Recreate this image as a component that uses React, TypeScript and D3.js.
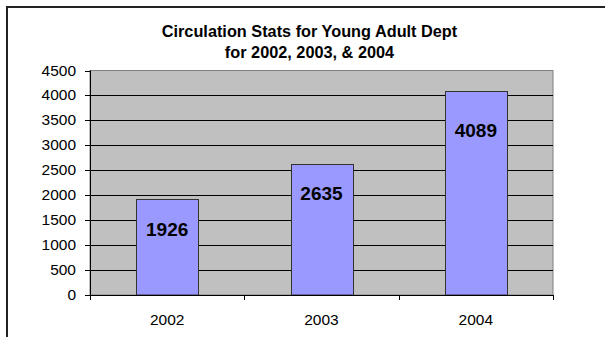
import React from "react";
import * as d3 from "d3";

const categories = ["2002", "2003", "2004"];
const values = [1926, 2635, 4089];
const yTicks = [0, 500, 1000, 1500, 2000, 2500, 3000, 3500, 4000, 4500];
const titleLines = ["Circulation Stats for Young Adult Dept", "for 2002, 2003, & 2004"];

export default function App() {
  const W = 605, H = 337;
  const left = 90, right = 553, top = 70.5, bottom = 295;
  const x = d3.scaleBand<string>().domain(categories).range([left, right]).paddingInner(0.6).paddingOuter(0.3);
  const xCat = d3.scaleBand<string>().domain(categories).range([left, right]);
  const y = d3.scaleLinear().domain([0, 4500]).range([bottom, top]);
  const labelOffsets = [31, 30, 39];
  const font = "Liberation Sans, Arial, sans-serif";
  const boundaries = [left, ...categories.map((c) => (xCat(c) as number) + xCat.bandwidth())];
  return (
    <svg width={W} height={H} style={{ position: "absolute", left: 0, top: 0, background: "#fff" }} fontFamily={font}>
      <line x1={6} x2={W} y1={7} y2={7} stroke="#222" strokeWidth={2} />
      <line x1={7} x2={7} y1={6} y2={H} stroke="#222" strokeWidth={2} />
      {titleLines.map((t, i) => (
        <text key={t} x={309.5} y={36.5 + i * 21} textAnchor="middle" fontWeight="bold" fontSize={16.3} fill="#000">
          {t}
        </text>
      ))}
      <rect x={left} y={top} width={right - left} height={bottom - top} fill="#C0C0C0" stroke="#808080" strokeWidth={1} />
      {yTicks.filter((t) => t > 0 && t < 4500).map((t) => (
        <line key={t} x1={left} x2={right} y1={Math.round(y(t)) + 0.5} y2={Math.round(y(t)) + 0.5} stroke="#000" strokeWidth={1} />
      ))}
      {categories.map((c, i) => {
        const bx = x(c) as number;
        const by = y(values[i]);
        return (
          <g key={c}>
            <rect x={Math.round(bx) + 0.5} y={Math.round(by) + 0.5} width={Math.round(x.bandwidth())} height={bottom - Math.round(by) - 0.5} fill="#9999FF" stroke="#333" strokeWidth={1} />
            <text x={bx + x.bandwidth() / 2} y={by + labelOffsets[i] + 6.5} textAnchor="middle" fontWeight="bold" fontSize={19} fill="#000">
              {values[i]}
            </text>
          </g>
        );
      })}
      <line x1={left + 0.5} x2={left + 0.5} y1={top} y2={bottom} stroke="#000" />
      <line x1={left} x2={right} y1={bottom + 0.5} y2={bottom + 0.5} stroke="#000" />
      {yTicks.map((t) => (
        <g key={t}>
          <line x1={85} x2={left} y1={Math.round(y(t)) + 0.5} y2={Math.round(y(t)) + 0.5} stroke="#000" />
          <text x={76} y={y(t) + 5} textAnchor="end" fontSize={15.5} fill="#000">
            {t}
          </text>
        </g>
      ))}
      {boundaries.map((b) => (
        <line key={b} x1={Math.round(b) + 0.5} x2={Math.round(b) + 0.5} y1={bottom} y2={bottom + 5} stroke="#000" />
      ))}
      {categories.map((c) => (
        <text key={c} x={(xCat(c) as number) + xCat.bandwidth() / 2} y={325} textAnchor="middle" fontSize={15.5} fill="#000">
          {c}
        </text>
      ))}
    </svg>
  );
}
